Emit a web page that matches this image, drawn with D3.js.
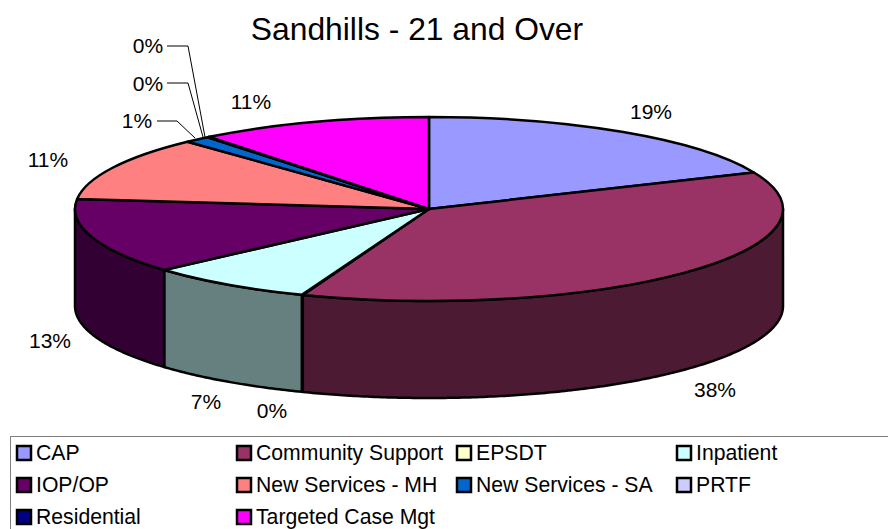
<!DOCTYPE html>
<html><head><meta charset="utf-8">
<script src="https://cdn.jsdelivr.net/npm/d3@7/dist/d3.min.js"></script>
<style>html,body{margin:0;padding:0;background:#fff;overflow:hidden}svg{display:block}text{font-family:"Liberation Sans",Arial,sans-serif;fill:#000}</style>
</head><body><div id="c"></div>
<script>
const title = "Sandhills - 21 and Over";
const categories = ["CAP","Community Support","EPSDT","Inpatient","IOP/OP","New Services - MH","New Services - SA","PRTF","Residential","Targeted Case Mgt"];
const values = [18.5,37.3,0.05,7.6,13.3,11.3,1.2,0.05,0.05,10.65];
const percentLabels = ["19%","38%","0%","7%","13%","11%","1%","0%","0%","11%"];
const colors = ["#9999FF","#993366","#FFFFCC","#CCFFFF","#660066","#FF8080","#0066CC","#CCCCFF","#000080","#FF00FF"];

// layout only
const W=888,H=529, cx=429, cy=209, rx=354, ry=92, depth=97;
const labelPos = [[651,111],[715,389],[272,410],[206,401],[50,340],[48,159],[137,120],[148,83],[148,45],[251,101]];
const leaders = {
  6:[[157,121],[177,121],[195,138]],
  7:[[167,83],[188,83],[203,137]],
  8:[[167,46],[188,46],[205,137]]
};

const svg=d3.select("#c").append("svg").attr("width",W).attr("height",H);
const arcs=d3.pie().sort(null).value(d=>d)(values);
const px=a=>cx+rx*Math.sin(a), py=a=>cy-ry*Math.cos(a);
const line=d3.line();

// side walls (front half only)
const wall=svg.append("g");
arcs.forEach((a,i)=>{
  const s=Math.max(a.startAngle,Math.PI/2), e=Math.min(a.endAngle,Math.PI*1.5);
  if(e<=s||e-s<0.01) return;
  const n=Math.ceil((e-s)/0.01);
  const ang=d3.range(n+1).map(k=>s+(e-s)*k/n);
  const top=ang.map(t=>[px(t),py(t)]);
  const bot=ang.slice().reverse().map(t=>[px(t),py(t)+depth]);
  const c=d3.rgb(colors[i]);
  wall.append("path").attr("d",line(top.concat(bot))+"Z")
    .attr("fill",d3.rgb(c.r/2,c.g/2,c.b/2).formatHex())
    .attr("stroke","#000").attr("stroke-width",2.5).attr("stroke-linejoin","round");
});

// top face
const arc=d3.arc().innerRadius(0).outerRadius(rx);
svg.append("g").attr("transform",`translate(${cx},${cy}) scale(1,${ry/rx})`)
  .selectAll("path").data(arcs).join("path")
  .attr("d",arc).attr("fill",(d,i)=>colors[i])
  .attr("stroke","#000").attr("stroke-width",2.5).attr("stroke-linejoin","round")
  .attr("vector-effect","non-scaling-stroke");

// leaders
Object.values(leaders).forEach(p=>{
  svg.append("path").attr("d",line(p)).attr("fill","none").attr("stroke","#000").attr("stroke-width",1);
});

// labels
svg.append("g").selectAll("text").data(percentLabels).join("text")
  .attr("x",(d,i)=>labelPos[i][0]).attr("y",(d,i)=>labelPos[i][1])
  .attr("text-anchor","middle").attr("dominant-baseline","central")
  .attr("font-size",21).text(d=>d);

svg.append("text").attr("x",417).attr("y",29).attr("text-anchor","middle")
  .attr("dominant-baseline","central").attr("font-size",31.8).text(title);

// legend
svg.append("rect").attr("x",10.5).attr("y",436.5).attr("width",W).attr("height",H)
  .attr("fill","#fff").attr("stroke","#808080").attr("stroke-width",1);
const colX=[17,237,457,677], rowY=[446,478,510];
const lg=svg.append("g").selectAll("g").data(categories).join("g")
  .attr("transform",(d,i)=>`translate(${colX[i%4]},${rowY[Math.floor(i/4)]})`);
lg.append("rect").attr("width",14).attr("height",14).attr("fill",(d,i)=>colors[i])
  .attr("stroke","#000").attr("stroke-width",2.5);
lg.append("text").attr("x",19).attr("y",6).attr("dominant-baseline","central")
  .attr("font-size",21.2).text(d=>d);
</script></body></html>
